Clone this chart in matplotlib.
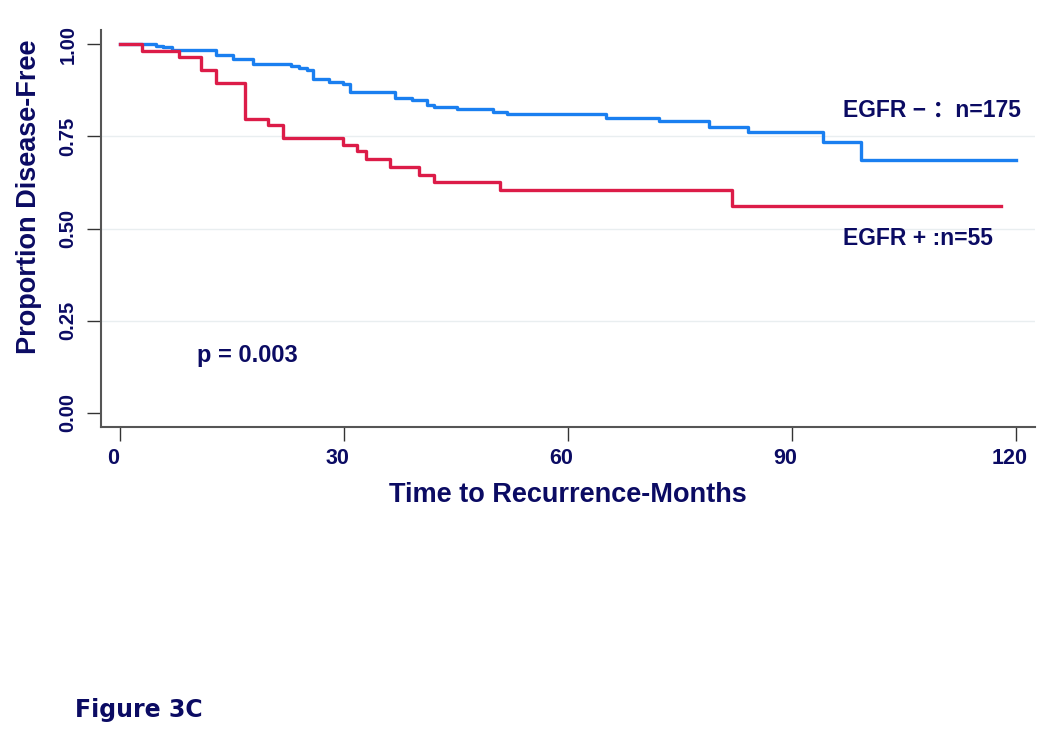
import matplotlib
matplotlib.use("Agg")
import matplotlib.pyplot as plt
from matplotlib.transforms import ScaledTranslation

# Kaplan-Meier step data
egfr_neg_t = [0, 4.8, 5.8, 6.9, 12.9, 15.1, 17.8, 22.9, 24.0, 25.0, 25.9, 28.0, 29.9, 30.8,
              36.8, 39.1, 41.1, 42.1, 45.1, 49.9, 51.8, 65.1, 72.2, 78.9, 84.1, 94.1, 99.2, 120]
egfr_neg_s = [1.0, 0.995, 0.991, 0.984, 0.971, 0.959, 0.947, 0.941, 0.936, 0.930, 0.906, 0.896,
              0.891, 0.871, 0.853, 0.847, 0.835, 0.829, 0.823, 0.817, 0.811, 0.799, 0.792, 0.774,
              0.762, 0.734, 0.686, 0.686]
egfr_pos_t = [0, 2.9, 7.9, 10.9, 12.9, 16.7, 19.8, 21.8, 29.9, 31.8, 32.9, 36.1, 40.1, 42.1,
              50.9, 81.9, 118]
egfr_pos_s = [1.0, 0.982, 0.966, 0.930, 0.893, 0.798, 0.781, 0.744, 0.727, 0.711, 0.688, 0.668,
              0.645, 0.627, 0.604, 0.561, 0.561]

x_ticks = [0, 30, 60, 90, 120]
y_ticks = [0.0, 0.25, 0.5, 0.75, 1.0]
y_ticklabels = ["0.00", "0.25", "0.50", "0.75", "1.00"]

NAVY = "#0b0b63"
BLUE = "#1a7ff0"
RED = "#dc1c48"
FONT = ["Liberation Sans", "DejaVu Sans"]

fig = plt.figure(figsize=(10.5, 7.35), dpi=100)
fig.patch.set_facecolor("white")
ax = fig.add_axes([101 / 1050, 1 - 427 / 735, (1035 - 101) / 1050, (427 - 30) / 735])

for y in [0.25, 0.5, 0.75]:
    ax.axhline(y, color="#e9eef0", lw=1.0, zorder=0)

ax.step(egfr_neg_t, egfr_neg_s, where="post", color=BLUE, lw=2.4, zorder=3)
ax.step(egfr_pos_t, egfr_pos_s, where="post", color=RED, lw=2.4, zorder=3)

ax.set_xlim(-2.545, 122.54)
ax.set_ylim(-0.038, 1.038)

ax.set_xticks(x_ticks)
ax.set_xticklabels([str(v) for v in x_ticks], fontfamily=FONT, fontweight="bold",
                   fontsize=15.5, color=NAVY)
ax.set_yticks(y_ticks)
ax.set_yticklabels(y_ticklabels, fontfamily=FONT, fontweight="bold", fontsize=14.5,
                   color=NAVY, rotation=90, va="center")
ax.tick_params(axis="both", direction="out", length=10, width=1.0, color="#333333")
ax.tick_params(axis="x", pad=5)
ax.tick_params(axis="y", pad=7)
shift = ScaledTranslation(-6.5 / 100, 0, fig.dpi_scale_trans)
for lbl in ax.get_xticklabels():
    lbl.set_transform(lbl.get_transform() + shift)

for s in ["top", "right"]:
    ax.spines[s].set_visible(False)
for s in ["left", "bottom"]:
    ax.spines[s].set_color("#555555")
    ax.spines[s].set_linewidth(1.5)

ax.set_xlabel("Time to Recurrence-Months", fontfamily=FONT, fontweight="bold",
              fontsize=19.5, color=NAVY, va="center")
ax.xaxis.set_label_coords(0.4995, -0.171)
ax.set_ylabel("Proportion Disease-Free", fontfamily=FONT, fontweight="bold",
              fontsize=19.5, color=NAVY, va="center")
ax.yaxis.set_label_coords(-0.0775, 0.5806)

ax.text(96.83, 0.8035, "EGFR \u2212 \uff1an=175", fontfamily=["Liberation Sans", "Noto Sans CJK SC"],
        fontweight="bold", fontsize=16.5, color=NAVY, va="baseline", ha="left")
ax.text(96.8, 0.4553, "EGFR + :n=55", fontfamily=FONT, fontweight="bold", fontsize=16.5,
        color=NAVY, va="baseline", ha="left")
ax.text(10.35, 0.1374, "p = 0.003", fontfamily=FONT, fontweight="bold", fontsize=17,
        color=NAVY, va="baseline", ha="left")

fig.text(75 / 1050, 1 - 710 / 735, "Figure 3C", fontfamily="DejaVu Sans", fontweight="bold",
         fontsize=17, color=NAVY, va="center", ha="left")

fig.savefig("out.png", dpi=100, facecolor="white")
